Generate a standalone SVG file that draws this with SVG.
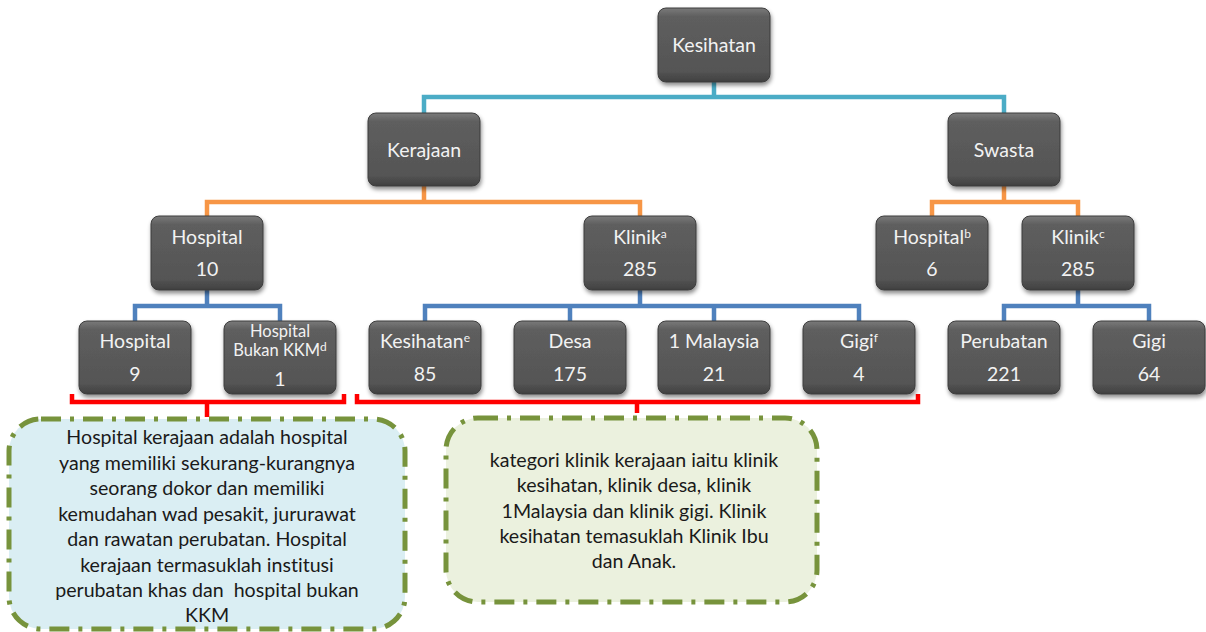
<svg xmlns="http://www.w3.org/2000/svg" width="1206" height="632" viewBox="0 0 1206 632">
<defs>
<linearGradient id="ng" x1="0" y1="0" x2="0" y2="1">
<stop offset="0" stop-color="#7a7a7a"/>
<stop offset="0.12" stop-color="#5e5e5e"/>
<stop offset="0.85" stop-color="#555555"/>
<stop offset="1" stop-color="#404040"/>
</linearGradient>
<filter id="sh" x="-20%" y="-20%" width="140%" height="150%">
<feDropShadow dx="1" dy="3" stdDeviation="2" flood-color="#000" flood-opacity="0.45"/>
</filter>
<style>
text{font-variant-ligatures:none}
.n rect{fill:url(#ng);stroke:#3d3d3d;stroke-width:1;filter:url(#sh)}
.n text{font-family:Lato,"Noto Sans",sans-serif;font-size:19.5px;fill:#f2f2f2;text-anchor:middle}
.n text.s{font-size:16.5px}
.sup{font-size:12px}
.c path{fill:none;stroke-width:4.5}
.cy{stroke:#4BACC6}
.or{stroke:#F79646}
.bl{stroke:#4F81BD}
.rd{stroke:#FF0000}
.co rect{stroke:#77933C;stroke-width:5;stroke-dasharray:20 9 4 9}
.co text{font-family:Lato,"Noto Sans",sans-serif;font-size:19.6px;fill:#1a1a1a;text-anchor:middle}
</style>
</defs>
<g id="connectors" class="c">
<path class="cy" d="M714 82V97M424 113V97H1004V113"/>
<path class="or" d="M424 186V202M207 216V202H640V216M1004 186V202M932 216V202H1078V216"/>
<path class="bl" d="M207 290V306M135 321V306H280V321M640 290V306M425 321V306H859V321M570 306V321M714 306V321M1078 290V306M1004 321V306H1149V321"/>
<path class="rd" d="M72 394V402H344V394M207 402V417M357 394V402H918V394M637 402V413"/>
</g>
<g id="n-kesihatan" class="n"><rect x="658" y="8" width="112" height="74" rx="8"/><text x="714" y="52">Kesihatan</text></g>
<g id="n-kerajaan" class="n"><rect x="368" y="113" width="112" height="73" rx="8"/><text x="424" y="157">Kerajaan</text></g>
<g id="n-swasta" class="n"><rect x="948" y="113" width="112" height="73" rx="8"/><text x="1004" y="157">Swasta</text></g>
<g id="n-hospital10" class="n"><rect x="151" y="216" width="112" height="74" rx="8"/><text x="207" y="244">Hospital</text><text x="207" y="276">10</text></g>
<g id="n-klinik285a" class="n"><rect x="584" y="216" width="112" height="74" rx="8"/><text x="640" y="244">Klinik<tspan class="sup" dy="-6">a</tspan></text><text x="640" y="276">285</text></g>
<g id="n-hospital6" class="n"><rect x="876" y="216" width="112" height="74" rx="8"/><text x="932" y="244">Hospital<tspan class="sup" dy="-6">b</tspan></text><text x="932" y="276">6</text></g>
<g id="n-klinik285c" class="n"><rect x="1022" y="216" width="112" height="74" rx="8"/><text x="1078" y="244">Klinik<tspan class="sup" dy="-6">c</tspan></text><text x="1078" y="276">285</text></g>
<g id="n-hospital9" class="n"><rect x="79" y="321" width="112" height="73" rx="8"/><text x="135" y="348">Hospital</text><text x="135" y="381">9</text></g>
<g id="n-bukankkm" class="n"><rect x="224" y="321" width="112" height="73" rx="8"/><text class="s" x="280" y="337">Hospital</text><text class="s" x="280" y="356">Bukan KKM<tspan class="sup" dy="-5">d</tspan></text><text x="280" y="386">1</text></g>
<g id="n-kesihatan85" class="n"><rect x="369" y="321" width="112" height="73" rx="8"/><text x="425" y="348">Kesihatan<tspan class="sup" dy="-6">e</tspan></text><text x="425" y="381">85</text></g>
<g id="n-desa" class="n"><rect x="514" y="321" width="112" height="73" rx="8"/><text x="570" y="348">Desa</text><text x="570" y="381">175</text></g>
<g id="n-1malaysia" class="n"><rect x="658" y="321" width="112" height="73" rx="8"/><text x="714" y="348">1 Malaysia</text><text x="714" y="381">21</text></g>
<g id="n-gigi4" class="n"><rect x="803" y="321" width="112" height="73" rx="8"/><text x="859" y="348">Gigi<tspan class="sup" dy="-6">f</tspan></text><text x="859" y="381">4</text></g>
<g id="n-perubatan" class="n"><rect x="948" y="321" width="112" height="73" rx="8"/><text x="1004" y="348">Perubatan</text><text x="1004" y="381">221</text></g>
<g id="n-gigi64" class="n"><rect x="1093" y="321" width="112" height="73" rx="8"/><text x="1149" y="348">Gigi</text><text x="1149" y="381">64</text></g>
<g id="callout-hospital" class="co">
<rect x="9" y="419" width="396" height="210" rx="32" fill="#DAEEF3"/>
<text x="207" y="444">Hospital kerajaan adalah hospital</text>
<text x="207" y="469.5">yang memiliki sekurang-kurangnya</text>
<text x="207" y="495">seorang dokor dan memiliki</text>
<text x="207" y="520.5">kemudahan wad pesakit, jururawat</text>
<text x="207" y="546">dan rawatan perubatan. Hospital</text>
<text x="207" y="571.5">kerajaan termasuklah institusi</text>
<text x="207" y="597" xml:space="preserve">perubatan khas dan  hospital bukan</text>
<text x="207" y="622">KKM</text>
</g>
<g id="callout-klinik" class="co">
<rect x="446" y="418" width="371" height="184" rx="32" fill="#EBF1DE"/>
<text x="634" y="467">kategori klinik kerajaan iaitu klinik</text>
<text x="634" y="492">kesihatan, klinik desa, klinik</text>
<text x="634" y="517.5">1Malaysia dan klinik gigi. Klinik</text>
<text x="634" y="543">kesihatan temasuklah Klinik Ibu</text>
<text x="634" y="568">dan Anak.</text>
</g>
</svg>
